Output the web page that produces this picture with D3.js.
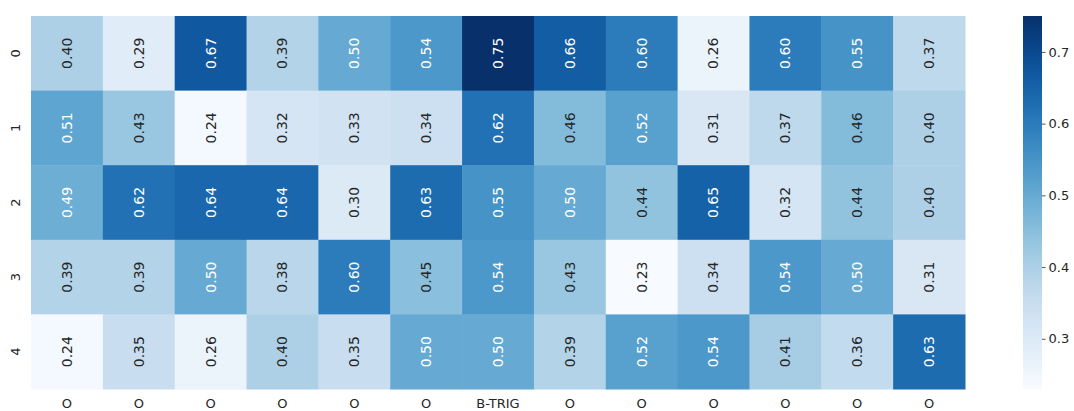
<!DOCTYPE html>
<html>
<head>
<meta charset="utf-8">
<script src="https://cdn.jsdelivr.net/npm/d3@7"></script>
<style>
  body { margin: 0; background: #fff; }
  text { font-family: "DejaVu Sans", sans-serif; fill: #262626; }
</style>
</head>
<body>
<svg id="chart" width="1074" height="411"></svg>
<script>
// tick labels
var colLabels = ["O", "O", "O", "O", "O", "O", "B-TRIG", "O", "O", "O", "O", "O", "O"];
var rowLabels = ["0", "1", "2", "3", "4"];
var cbTicks = [0.3, 0.4, 0.5, 0.6, 0.7];

// cell values, one array per row
var row0 = [0.40, 0.29, 0.67, 0.39, 0.50, 0.54, 0.75, 0.66, 0.60, 0.26, 0.60, 0.55, 0.37];
var row1 = [0.51, 0.43, 0.24, 0.32, 0.33, 0.34, 0.62, 0.46, 0.52, 0.31, 0.37, 0.46, 0.40];
var row2 = [0.49, 0.62, 0.64, 0.64, 0.30, 0.63, 0.55, 0.50, 0.44, 0.65, 0.32, 0.44, 0.40];
var row3 = [0.39, 0.39, 0.50, 0.38, 0.60, 0.45, 0.54, 0.43, 0.23, 0.34, 0.54, 0.50, 0.31];
var row4 = [0.24, 0.35, 0.26, 0.40, 0.35, 0.50, 0.50, 0.39, 0.52, 0.54, 0.41, 0.36, 0.63];
var rows = [row0, row1, row2, row3, row4];

var vmin = 0.23, vmax = 0.75;

var svg = d3.select("#chart");
var hmLeft = 31, hmTop = 16, hmRight = 965, hmBottom = 389;

var x = d3.scaleBand().domain(d3.range(colLabels.length)).range([hmLeft, hmRight]);
var y = d3.scaleBand().domain(rowLabels).range([hmTop, hmBottom]);
var color = d3.scaleSequential(d3.interpolateBlues).domain([vmin, vmax]);

var cells = [];
rows.forEach(function(r, i) {
  r.forEach(function(v, j) { cells.push({row: rowLabels[i], col: j, v: v}); });
});

// same rule as seaborn: light text on dark cells
function textColor(v) {
  var c = d3.rgb(color(v));
  var lin = [c.r, c.g, c.b].map(function(u) {
    u = u / 255;
    return u <= 0.03928 ? u / 12.92 : Math.pow((u + 0.055) / 1.055, 2.4);
  });
  var l = 0.2126 * lin[0] + 0.7152 * lin[1] + 0.0722 * lin[2];
  return l > 0.408 ? "#262626" : "#ffffff";
}

var g = svg.append("g");
g.selectAll("rect").data(cells).enter().append("rect")
  .attr("x", function(d) { return x(d.col); })
  .attr("y", function(d) { return y(d.row); })
  .attr("width", x.bandwidth() + 0.5)
  .attr("height", y.bandwidth() + 0.5)
  .attr("fill", function(d) { return color(d.v); });

g.selectAll("text.annot").data(cells).enter().append("text")
  .attr("class", "annot")
  .attr("transform", function(d) {
    return "translate(" + (x(d.col) + x.bandwidth() / 2) + "," + (y(d.row) + y.bandwidth() / 2) + ") rotate(-90)";
  })
  .attr("text-anchor", "middle")
  .attr("dy", "0.35em")
  .style("font-size", "14px")
  .style("fill", function(d) { return textColor(d.v); })
  .text(function(d) { return d.v.toFixed(2); });

// x axis labels
svg.append("g").selectAll("text").data(colLabels).enter().append("text")
  .attr("x", function(d, i) { return x(i) + x.bandwidth() / 2; })
  .attr("y", hmBottom + 14)
  .attr("dy", "0.35em")
  .attr("text-anchor", "middle")
  .style("font-size", "13px")
  .text(function(d) { return d; });

// y axis labels, rotated
svg.append("g").selectAll("text").data(rowLabels).enter().append("text")
  .attr("transform", function(d) {
    return "translate(" + 15 + "," + (y(d) + y.bandwidth() / 2) + ") rotate(-90)";
  })
  .attr("text-anchor", "middle")
  .attr("dy", "0.35em")
  .style("font-size", "13px")
  .text(function(d) { return d; });

// colorbar
var cbx = 1023, cbw = 19;
var cy = d3.scaleLinear().domain([vmin, vmax]).range([hmBottom, hmTop]);
var defs = svg.append("defs");
var grad = defs.append("linearGradient").attr("id", "cbgrad")
  .attr("x1", 0).attr("y1", 1).attr("x2", 0).attr("y2", 0);
d3.range(0, 1.0001, 0.05).forEach(function(t) {
  grad.append("stop").attr("offset", t).attr("stop-color", color(vmin + t * (vmax - vmin)));
});
svg.append("rect")
  .attr("x", cbx).attr("y", hmTop)
  .attr("width", cbw).attr("height", hmBottom - hmTop)
  .attr("fill", "url(#cbgrad)");

var cbAxis = svg.append("g")
  .attr("transform", "translate(" + (cbx + cbw) + ",0)")
  .call(d3.axisRight(cy).tickValues(cbTicks).tickSize(3.5).tickPadding(3).tickFormat(d3.format(".1f")));
cbAxis.select(".domain").remove();
cbAxis.selectAll("line").attr("stroke", "#262626").attr("stroke-width", 0.8);
cbAxis.selectAll("text").style("font-size", "13px").attr("font-family", null).style("fill", "#262626");
</script>
</body>
</html>
